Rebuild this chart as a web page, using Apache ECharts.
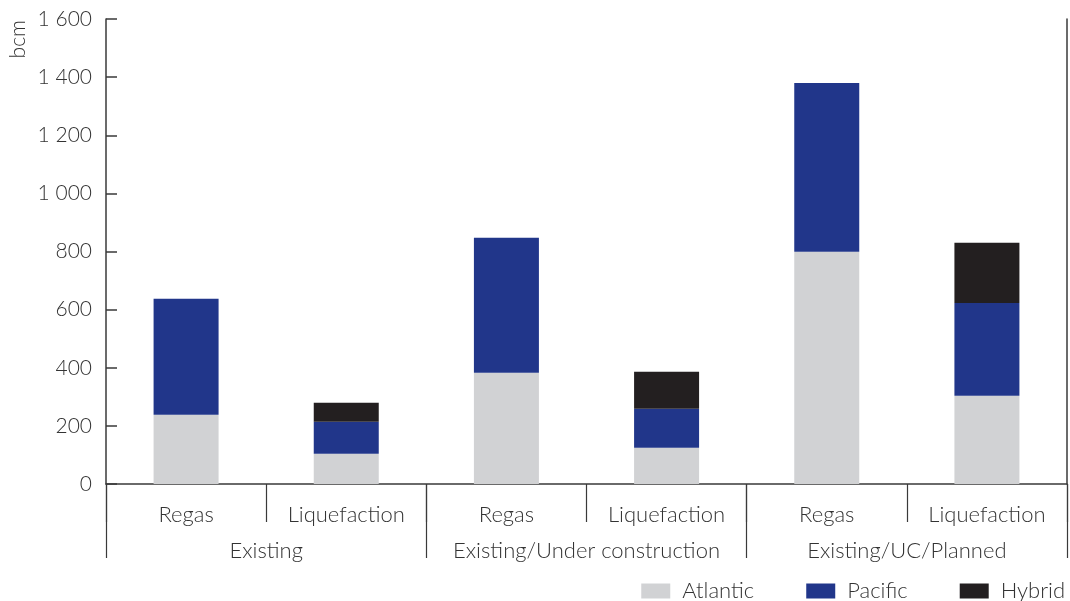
<!DOCTYPE html>
<html>
<head>
<meta charset="utf-8">
<script src="https://cdn.jsdelivr.net/npm/echarts@6/dist/echarts.min.js"></script>
<style>
html,body{margin:0;padding:0;background:#fff;}
#c{width:1070px;height:601px;}
</style>
</head>
<body>
<div id="c"></div>
<script>
const subCategories = ['Regas', 'Liquefaction', 'Regas', 'Liquefaction', 'Regas', 'Liquefaction'];
const groups = ['Existing', 'Existing/Under construction', 'Existing/UC/Planned'];
const atlantic = [238, 104, 383, 125, 799, 304];
const pacific = [399, 110, 464, 134, 581, 319];
const hybrid = [0, 66, 0, 127, 0, 207];
const yTicks = { min: 0, max: 1600, interval: 200 };

const FONT = 'Lato';
const TXT = '#333333';
const AX = '#3a3a3a';

const chart = echarts.init(document.getElementById('c'));
chart.setOption({
  animation: false,
  backgroundColor: '#ffffff',
  grid: { left: 106, right: 3, top: 19, bottom: 117, containLabel: false },
  legend: {
    right: 0, top: 574,
    itemWidth: 29, itemHeight: 15, itemGap: 52,
    icon: 'rect',
    textStyle: { fontFamily: FONT, fontWeight: 300, fontSize: 22, lineHeight: 24, color: TXT, padding: [0, 0, 0, 7] },
    data: ['Atlantic', 'Pacific', 'Hybrid']
  },
  graphic: [{
    type: 'text', left: 8, top: 20, rotation: Math.PI / 2,
    style: { text: 'bcm', fontFamily: FONT, fontWeight: 300, fontSize: 21, fill: TXT }
  }],
  xAxis: [{
    type: 'category', data: subCategories, position: 'bottom',
    axisLine: { show: true, lineStyle: { color: AX, width: 1.5 } },
    axisTick: { show: true, interval: 0, length: 38, lineStyle: { color: AX, width: 1.2 } },
    axisLabel: { interval: 0, margin: 20, fontFamily: FONT, fontWeight: 300, fontSize: 22, color: TXT }
  }, {
    type: 'category', data: groups, position: 'bottom', offset: 0,
    axisLine: { show: false },
    axisTick: { show: true, interval: 0, length: 74, lineStyle: { color: AX, width: 1.2 } },
    axisLabel: { interval: 0, margin: 56, fontFamily: FONT, fontWeight: 300, fontSize: 22, color: TXT }
  }],
  yAxis: [{
    type: 'value', min: yTicks.min, max: yTicks.max, interval: yTicks.interval,
    axisLine: { show: true, lineStyle: { color: AX, width: 1.5 } },
    axisTick: { show: true, inside: true, length: 11, lineStyle: { color: AX, width: 1.5 } },
    splitLine: { show: false },
    axisLabel: {
      margin: 14, fontFamily: FONT, fontWeight: 300, fontSize: 21, color: TXT,
      formatter: v => String(v).replace(/\B(?=(\d{3})+(?!\d))/g, ' ')
    }
  }, {
    type: 'value', position: 'right', min: yTicks.min, max: yTicks.max, interval: yTicks.interval,
    axisLine: { show: true, lineStyle: { color: AX, width: 1.5 } },
    axisTick: { show: false }, axisLabel: { show: false }, splitLine: { show: false }
  }],
  series: [
    { name: 'Atlantic', type: 'bar', stack: 's', data: atlantic, barWidth: 65, itemStyle: { color: '#d1d2d4' } },
    { name: 'Pacific', type: 'bar', stack: 's', data: pacific, barWidth: 65, itemStyle: { color: '#21368a' } },
    { name: 'Hybrid', type: 'bar', stack: 's', data: hybrid, barWidth: 65, itemStyle: { color: '#231f20' } }
  ]
});
</script>
</body>
</html>
